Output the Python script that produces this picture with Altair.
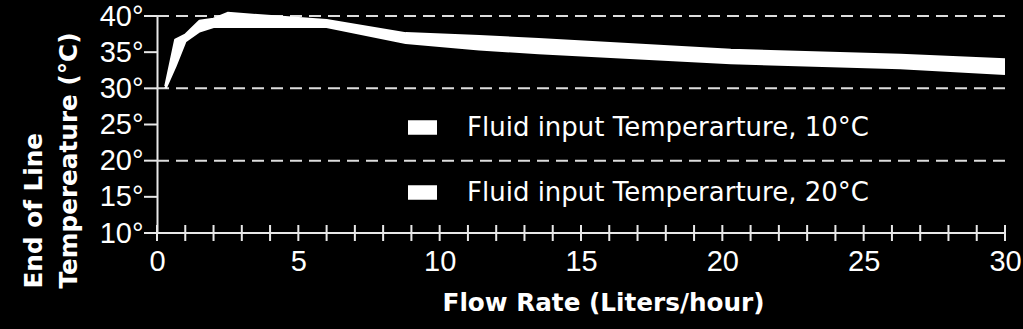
import altair as alt
import pandas as pd

flow = [0.3, 0.65, 1.0, 1.5, 2.0, 2.5, 6.0, 8.8, 11.4, 13.5, 20.3, 26.3, 30.0]
temp_20 = [30.3, 36.7, 37.4, 39.3, 39.6, 40.4, 39.4, 37.6, 37.2, 36.8, 35.3, 34.6, 34.0]
temp_10 = [30.0, 33.1, 36.5, 37.9, 38.5, 38.5, 38.5, 36.3, 35.4, 34.9, 33.5, 32.8, 32.0]
series_names = ["Fluid input Temperarture, 10°C", "Fluid input Temperarture, 20°C"]
y_ticks = [10, 15, 20, 25, 30, 35, 40]
x_labels = [0, 5, 10, 15, 20, 25, 30]
x_minor = list(range(0, 31))
grid_vals = [20, 30, 40]

band = pd.DataFrame({"flow": flow, "lo": temp_10, "hi": temp_20})
lines = pd.DataFrame({
    "flow": flow + flow,
    "temp": temp_10 + temp_20,
    "series": [series_names[0]] * len(flow) + [series_names[1]] * len(flow),
})
grid = pd.DataFrame({"g": grid_vals})
base = pd.DataFrame({"b": [y_ticks[0]]})
xt = pd.DataFrame({"xv": x_minor, "yb": [y_ticks[0]] * len(x_minor)})
yt = pd.DataFrame({"yv": y_ticks})

NUM_FONT = "Liberation Sans"
TXT_FONT = "DejaVu Sans"
AX = "#e8e8e8"

xscale = alt.Scale(domain=[0, 30], nice=False, zero=False)
yscale = alt.Scale(domain=[10, 40], nice=False, zero=False)

xaxis = alt.Axis(values=x_labels, ticks=False, domain=False, grid=False,
                 labelFont=NUM_FONT, labelFontSize=29, labelColor="white",
                 labelPadding=14, labelFlush=False, labelOverlap=False,
                 title="Flow Rate (Liters/hour)", titleFont=TXT_FONT, titleFontSize=24.7,
                 titleFontWeight="bold", titleColor="white", titleX=446, titleY=77,
                 titleBaseline="alphabetic")
yaxis = alt.Axis(values=y_ticks, ticks=False, grid=False, domain=True, domainColor=AX,
                 domainWidth=2,
                 labelExpr="datum.value + '°'", labelFont=NUM_FONT, labelFontSize=29,
                 labelColor="white", labelPadding=14, labelBaseline="middle",
                 labelOverlap=False,
                 title=["End of Line", "Tempereature (°C)"], titleFont=TXT_FONT,
                 titleFontSize=24.7, titleFontWeight="bold", titleColor="white",
                 titleAngle=-90, titleAlign="left", titleBaseline="top",
                 titleX=-136, titleY=272, titleLineHeight=35)

gridlines = alt.Chart(grid).mark_rule(color="#dddddd", strokeWidth=2, strokeDash=[12, 7]).encode(
    y=alt.Y("g:Q", scale=yscale, axis=yaxis)
)

baseline = alt.Chart(base).mark_rule(color=AX, strokeWidth=2).encode(
    y=alt.Y("b:Q", scale=yscale, axis=yaxis)
)

# crossing ticks on the flow-rate axis, one per litre/hour (8 px above and below the base line)
xticks = alt.Chart(xt).mark_rule(color=AX, strokeWidth=2, clip=False,
                                 yOffset=8, y2Offset=-8).encode(
    x=alt.X("xv:Q", scale=xscale, axis=xaxis),
    y=alt.Y("yb:Q", scale=yscale, axis=yaxis),
    y2="yb:Q",
)

# outward ticks on the temperature axis
yticks = alt.Chart(yt).mark_rule(color=AX, strokeWidth=2, clip=False).encode(
    y=alt.Y("yv:Q", scale=yscale, axis=yaxis),
    x=alt.value(-13),
    x2=alt.value(0),
)

area = alt.Chart(band).mark_area(color="white", opacity=1).encode(
    x=alt.X("flow:Q", scale=xscale, axis=xaxis),
    y=alt.Y("lo:Q", scale=yscale, axis=yaxis),
    y2="hi:Q",
)

line = alt.Chart(lines).mark_line(strokeWidth=2.5, strokeJoin="round").encode(
    x=alt.X("flow:Q", scale=xscale, axis=xaxis),
    y=alt.Y("temp:Q", scale=yscale, axis=yaxis),
    color=alt.Color("series:N", scale=alt.Scale(domain=series_names, range=["white", "white"]),
                    legend=alt.Legend(title=None, orient="none", legendX=251, legendY=97,
                                      symbolType="M-1,-0.5H1V0.5H-1Z", symbolSize=841,
                                      symbolFillColor="white", symbolStrokeColor="white",
                                      symbolStrokeWidth=0, symbolOpacity=1,
                                      labelFont=TXT_FONT, labelFontSize=26, labelColor="white",
                                      labelOffset=30, rowPadding=37, padding=0,
                                      labelLimit=600)),
)

chart = alt.layer(gridlines, area, line, xticks, baseline, yticks).properties(
    width=848, height=217,
    autosize=alt.AutoSizeParams(type="none"),
    padding={"left": 157, "top": 16, "right": 18, "bottom": 96},
    background="black",
).configure_view(stroke=None)

chart.save("out.html", embed_options={"renderer": "svg", "actions": False})
